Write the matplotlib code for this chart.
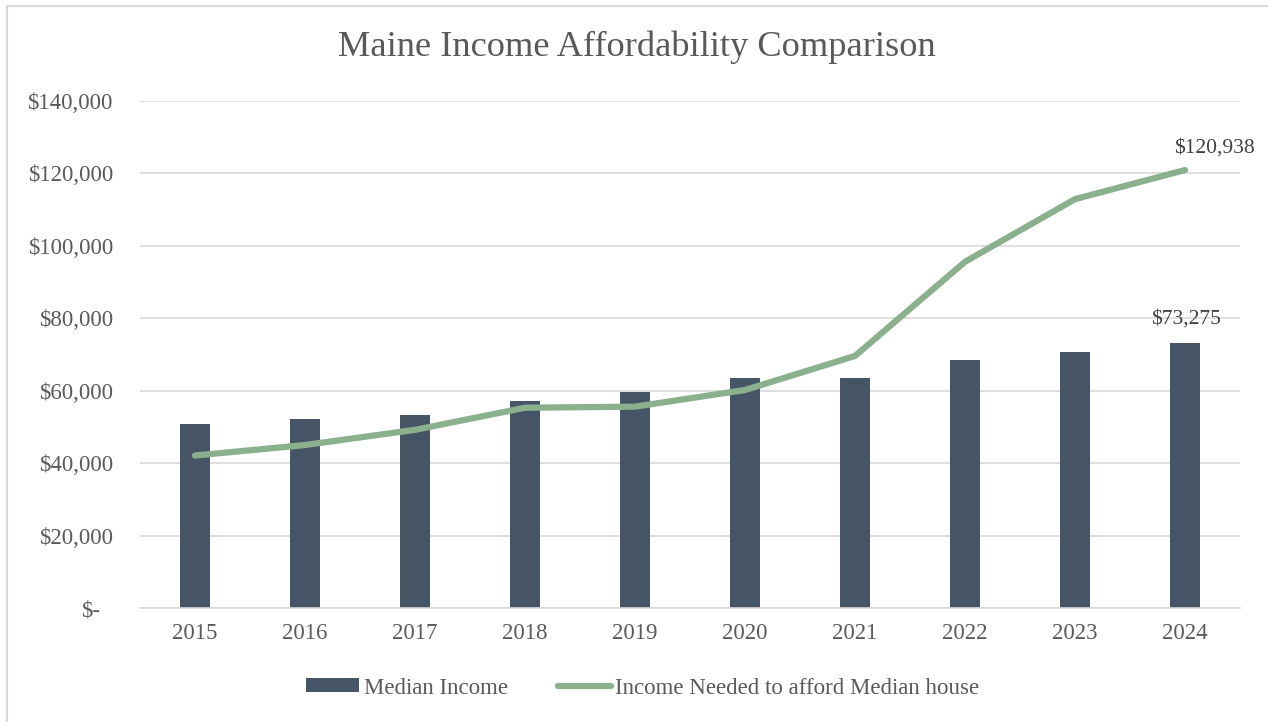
import numpy as np
import matplotlib
matplotlib.use('Agg')
from matplotlib import pyplot as plt
from matplotlib.ticker import FuncFormatter
from matplotlib.transforms import ScaledTranslation
from matplotlib.lines import Line2D

# data
years = ['2015', '2016', '2017', '2018', '2019', '2020', '2021', '2022', '2023', '2024']
median_income = [50800, 52200, 53300, 57200, 59700, 63500, 63500, 68500, 70700, 73275]
income_needed = [42100, 45000, 49200, 55300, 55600, 60200, 69600, 95600, 112900, 120938]

bar_color = '#465566'
line_color = '#8AB08E'
text_color = '#595959'
grid_color = '#D9D9D9'

plt.rcParams['font.family'] = ['Liberation Serif', 'DejaVu Serif']

W, H = 1268, 722
fig = plt.figure(figsize=(W / 100, H / 100), dpi=100)
ax = fig.add_axes([140/W, 1-608/H, 1100/W, 507/H])

x = np.arange(len(years))
bars = ax.bar(x, median_income, width=0.27, color=bar_color, label='Median Income', zorder=2)
line, = ax.plot(x, income_needed, color=line_color, linewidth=4.5, solid_capstyle='round',
                label='Income Needed to afford Median house', zorder=3)

# labels on the last points
ax.annotate('${:,.0f}'.format(median_income[-1]), (x[-1], median_income[-1]),
            xytext=(1, 10), textcoords='offset points', ha='center', va='bottom',
            fontsize=15.5, color='#404040')
ax.annotate('${:,.0f}'.format(income_needed[-1]), (x[-1], income_needed[-1]),
            xytext=(21.5, 9), textcoords='offset points', ha='center', va='bottom',
            fontsize=15.5, color='#404040')

ax.set_xlim(-0.5, len(years) - 0.5)
ax.set_ylim(0, 140000)
ax.set_yticks(np.arange(0, 140001, 20000))
ax.yaxis.set_major_formatter(FuncFormatter(lambda v, p: '$-' if v == 0 else '${:,.0f}'.format(v)))
ax.set_xticks(x)
ax.set_xticklabels(years)
ax.tick_params(axis='both', length=0, labelsize=16.5, colors=text_color)
ax.tick_params(axis='x', pad=11)
ax.tick_params(axis='y', pad=19.5)
# excel pads "$-" with trailing spaces
zero_lab = ax.yaxis.get_major_ticks()[0].label1
zero_lab.set_transform(zero_lab.get_transform() + ScaledTranslation(-13/100, 0, fig.dpi_scale_trans))

ax.grid(axis='y', color=grid_color, linewidth=1.2, zorder=0)
for s in ['top', 'right', 'left']:
    ax.spines[s].set_visible(False)
ax.spines['bottom'].set_color(grid_color)
ax.spines['bottom'].set_linewidth(1.2)

fig.text(637/W, 1-47/H, 'Maine Income Affordability Comparison', ha='center', va='center',
         fontsize=26.2, color=text_color)

leg = fig.legend([bars, line], ['Median Income', 'Income Needed to afford Median house'],
                 loc='center', bbox_to_anchor=(643/W, 1-688/H), ncol=2, frameon=False,
                 fontsize=16.5, handlelength=2.3, handleheight=0.55, columnspacing=2.2,
                 handletextpad=0.2)
for t in leg.get_texts():
    t.set_color(text_color)

# chart frame (left and top edges visible)
fig.add_artist(Line2D([6.5/W, 6.5/W], [0, 1-5.5/H], transform=fig.transFigure,
                      color=grid_color, linewidth=1.5))
fig.add_artist(Line2D([6.5/W, 1], [1-5.5/H, 1-5.5/H], transform=fig.transFigure,
                      color=grid_color, linewidth=1.5))

fig.savefig('out.png', dpi=100)
